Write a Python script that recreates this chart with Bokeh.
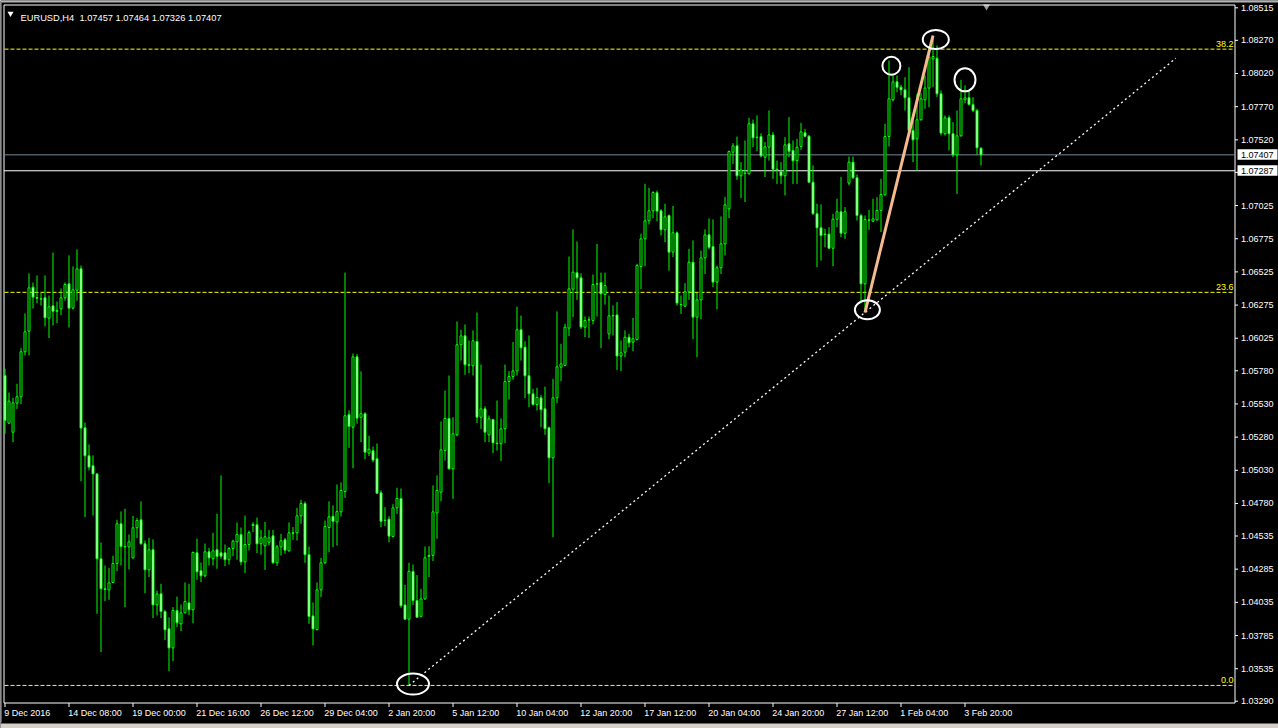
from bokeh.plotting import figure
from bokeh.models import Range1d
from bokeh.embed import file_html
from bokeh.resources import INLINE
from bokeh.core.properties import value

symbol = "EURUSD,H4"

# H4 candles, oldest first
opens = [
    1.05744, 1.05385, 1.05317, 1.05536, 1.05584, 1.05923, 1.06079, 1.06410, 1.06332, 1.06322,
    1.06330, 1.06176, 1.06269, 1.06234, 1.06247, 1.06330, 1.06435, 1.06252, 1.06387, 1.06548,
    1.05350, 1.05139, 1.05064, 1.05003, 1.04363, 1.04137, 1.04129, 1.04185, 1.04328, 1.04627,
    1.04456, 1.04453, 1.04370, 1.04597, 1.04657, 1.04476, 1.04280, 1.04431, 1.04016, 1.04099,
    1.03966, 1.03836, 1.03692, 1.03974, 1.03873, 1.03956, 1.04031, 1.03979, 1.04408, 1.04273,
    1.04235, 1.04416, 1.04363, 1.04431, 1.04408, 1.04408, 1.04356, 1.04441, 1.04491, 1.04546,
    1.04340, 1.04471, 1.04622, 1.04619, 1.04476, 1.04461, 1.04488, 1.04536, 1.04333, 1.04453,
    1.04506, 1.04423, 1.04559, 1.04559, 1.04687, 1.04780, 1.04394, 1.03933, 1.03830, 1.04129,
    1.04333, 1.04599, 1.04684, 1.04641, 1.04717, 1.04870, 1.05451, 1.05355, 1.05885, 1.05430,
    1.05456, 1.05159, 1.05177, 1.05117, 1.04860, 1.04654, 1.04662, 1.04531, 1.04747, 1.04818,
    1.04016, 1.03908, 1.04268, 1.04049, 1.03930, 1.04061, 1.04381, 1.04389, 1.04709, 1.04865,
    1.05179, 1.05421, 1.05041, 1.05297, 1.05976, 1.06043, 1.05825, 1.05817, 1.06001, 1.05430,
    1.05493, 1.05297, 1.05413, 1.05235, 1.05230, 1.05343, 1.05699, 1.05737, 1.05779, 1.06089,
    1.05958, 1.05742, 1.05606, 1.05526, 1.05576, 1.05493, 1.05351, 1.05124, 1.05576, 1.05807,
    1.05820, 1.06101, 1.06395, 1.06518, 1.06480, 1.06109, 1.06164, 1.06159, 1.06435, 1.06445,
    1.06355, 1.06058, 1.06196, 1.06201, 1.05891, 1.05920, 1.06033, 1.05996, 1.06016, 1.06566,
    1.06774, 1.06910, 1.06985, 1.07121, 1.06985, 1.06842, 1.06950, 1.06674, 1.06820, 1.06280,
    1.06267, 1.06375, 1.06598, 1.06184, 1.06314, 1.06631, 1.06804, 1.06716, 1.06448, 1.06556,
    1.06736, 1.07000, 1.07427, 1.07475, 1.07249, 1.07269, 1.07264, 1.07641, 1.07540, 1.07545,
    1.07389, 1.07465, 1.07557, 1.07299, 1.07281, 1.07249, 1.07490, 1.07440, 1.07364, 1.07470,
    1.07573, 1.07548, 1.07201, 1.06963, 1.06857, 1.06810, 1.06810, 1.06703, 1.06922, 1.06978,
    1.06817, 1.07194, 1.07352, 1.07234, 1.06950, 1.06435, 1.06917, 1.06907, 1.06917, 1.06988,
    1.07106, 1.07545, 1.07822, 1.07957, 1.07917, 1.07897, 1.07837, 1.07591, 1.07528, 1.07671,
    1.07822, 1.07910, 1.08130, 1.08135, 1.07867, 1.07566, 1.07686, 1.07566, 1.07407, 1.07550,
    1.07822, 1.07837, 1.07786, 1.07741, 1.07457,
]
highs = [
    1.05795, 1.05616, 1.05576, 1.05682, 1.05950, 1.06212, 1.06513, 1.06445, 1.06498, 1.06367,
    1.06498, 1.06347, 1.06671, 1.06302, 1.06400, 1.06445, 1.06649, 1.06566, 1.06694, 1.06573,
    1.05390, 1.05225, 1.05142, 1.05008, 1.04486, 1.04313, 1.04295, 1.04386, 1.04657, 1.04720,
    1.04740, 1.04546, 1.04687, 1.04669, 1.04795, 1.04501, 1.04521, 1.04509, 1.04124, 1.04175,
    1.03979, 1.03923, 1.03999, 1.04079, 1.04019, 1.04185, 1.04175, 1.04418, 1.04516, 1.04335,
    1.04478, 1.04446, 1.04559, 1.04702, 1.04991, 1.04471, 1.04451, 1.04506, 1.04637, 1.04599,
    1.04689, 1.04576, 1.04639, 1.04674, 1.04581, 1.04642, 1.04581, 1.04581, 1.04468, 1.04551,
    1.04521, 1.04637, 1.04602, 1.04747, 1.04808, 1.04795, 1.04456, 1.04034, 1.04185, 1.04369,
    1.04652, 1.04795, 1.04765, 1.04923, 1.04938, 1.06520, 1.05483, 1.05910, 1.05905, 1.05775,
    1.05468, 1.05290, 1.05209, 1.05232, 1.04878, 1.04752, 1.04684, 1.04775, 1.04898, 1.04893,
    1.04167, 1.04333, 1.04320, 1.04240, 1.04137, 1.04456, 1.04458, 1.04916, 1.04991, 1.05398,
    1.05631, 1.05744, 1.05430, 1.06151, 1.06089, 1.06129, 1.06008, 1.06084, 1.06219, 1.05827,
    1.05513, 1.05443, 1.05418, 1.05556, 1.05421, 1.05827, 1.05777, 1.05996, 1.06264, 1.06196,
    1.06003, 1.06046, 1.05644, 1.05652, 1.05599, 1.05661, 1.05360, 1.05719, 1.06227, 1.05983,
    1.06134, 1.06641, 1.06845, 1.06754, 1.06515, 1.06189, 1.06189, 1.06505, 1.06736, 1.06520,
    1.06520, 1.06347, 1.06272, 1.06297, 1.06008, 1.06084, 1.06058, 1.06179, 1.06586, 1.06812,
    1.07189, 1.07159, 1.07133, 1.07138, 1.06998, 1.07038, 1.06958, 1.07023, 1.06830, 1.06347,
    1.06440, 1.06699, 1.06762, 1.06367, 1.06686, 1.06845, 1.06928, 1.06920, 1.06573, 1.06943,
    1.07091, 1.07440, 1.07495, 1.07545, 1.07352, 1.07515, 1.07686, 1.07673, 1.07704, 1.07570,
    1.07503, 1.07741, 1.07578, 1.07364, 1.07352, 1.07540, 1.07691, 1.07515, 1.07528, 1.07648,
    1.07603, 1.07555, 1.07327, 1.07038, 1.07033, 1.06850, 1.06862, 1.06963, 1.07076, 1.07239,
    1.07013, 1.07394, 1.07394, 1.07259, 1.06963, 1.06950, 1.06993, 1.07076, 1.07088, 1.07226,
    1.07641, 1.08118, 1.08017, 1.08005, 1.07935, 1.07992, 1.08067, 1.07666, 1.07867, 1.07872,
    1.08005, 1.08193, 1.08306, 1.08231, 1.07892, 1.07704, 1.07704, 1.07653, 1.07741, 1.07972,
    1.07930, 1.07892, 1.07842, 1.07754, 1.07464,
]
lows = [
    1.05305, 1.05380, 1.05242, 1.05493, 1.05528, 1.05895, 1.05895, 1.06249, 1.06289, 1.06272,
    1.06114, 1.06026, 1.06121, 1.06139, 1.06199, 1.06309, 1.06106, 1.06242, 1.06309, 1.04948,
    1.04677, 1.05029, 1.04689, 1.03949, 1.03660, 1.04044, 1.04054, 1.04180, 1.04270, 1.04313,
    1.03999, 1.04283, 1.04366, 1.04519, 1.04471, 1.04104, 1.04225, 1.03916, 1.03936, 1.03916,
    1.03750, 1.03517, 1.03592, 1.03848, 1.03818, 1.03954, 1.03939, 1.03878, 1.04205, 1.04187,
    1.04225, 1.04313, 1.04313, 1.04288, 1.04363, 1.04308, 1.04320, 1.04383, 1.04356, 1.04315,
    1.04255, 1.04426, 1.04564, 1.04406, 1.04394, 1.04280, 1.04463, 1.04325, 1.04310, 1.04388,
    1.04401, 1.04418, 1.04506, 1.04501, 1.04627, 1.04333, 1.03873, 1.03710, 1.03823, 1.04074,
    1.04325, 1.04413, 1.04451, 1.04463, 1.04682, 1.04823, 1.05199, 1.05046, 1.05381, 1.05242,
    1.05112, 1.05137, 1.05091, 1.04853, 1.04602, 1.04609, 1.04488, 1.04526, 1.04702, 1.03994,
    1.03906, 1.03409, 1.04016, 1.03918, 1.03923, 1.04054, 1.04225, 1.04346, 1.04514, 1.04797,
    1.05104, 1.05034, 1.04815, 1.05287, 1.05857, 1.05750, 1.05762, 1.05744, 1.05386, 1.05342,
    1.05242, 1.05242, 1.05159, 1.05179, 1.05099, 1.05235, 1.05564, 1.05712, 1.05744, 1.05857,
    1.05574, 1.05506, 1.05518, 1.05481, 1.05355, 1.05297, 1.04933, 1.04526, 1.05536, 1.05702,
    1.05815, 1.06041, 1.06184, 1.06314, 1.06094, 1.06033, 1.06028, 1.06129, 1.06189, 1.05950,
    1.06279, 1.06018, 1.06046, 1.05787, 1.05777, 1.05882, 1.05958, 1.05928, 1.06008, 1.06395,
    1.06568, 1.06882, 1.06929, 1.06907, 1.06799, 1.06749, 1.06535, 1.06636, 1.06272, 1.06209,
    1.06260, 1.06314, 1.06018, 1.05882, 1.06169, 1.06510, 1.06696, 1.06410, 1.06242, 1.06510,
    1.06649, 1.06930, 1.07339, 1.07219, 1.07081, 1.07051, 1.07259, 1.07465, 1.07435, 1.07389,
    1.07239, 1.07364, 1.07226, 1.07188, 1.07188, 1.07101, 1.07389, 1.07188, 1.07188, 1.07445,
    1.07540, 1.07196, 1.06955, 1.06561, 1.06611, 1.06711, 1.06698, 1.06568, 1.06862, 1.06787,
    1.06774, 1.07176, 1.07226, 1.06912, 1.06305, 1.06219, 1.06842, 1.06900, 1.06912, 1.06825,
    1.07101, 1.07470, 1.07809, 1.07879, 1.07859, 1.07741, 1.07578, 1.07352, 1.07289, 1.07666,
    1.07754, 1.07766, 1.07917, 1.07842, 1.07553, 1.07553, 1.07440, 1.07389, 1.07113, 1.07545,
    1.07796, 1.07779, 1.07729, 1.07409, 1.07326,
]
closes = [
    1.05405, 1.05551, 1.05538, 1.05584, 1.05923, 1.06074, 1.06405, 1.06335, 1.06327, 1.06320,
    1.06179, 1.06262, 1.06229, 1.06229, 1.06330, 1.06430, 1.06252, 1.06390, 1.06548, 1.05348,
    1.05139, 1.05054, 1.05003, 1.04363, 1.04137, 1.04132, 1.04182, 1.04328, 1.04627, 1.04456,
    1.04453, 1.04491, 1.04597, 1.04652, 1.04476, 1.04280, 1.04431, 1.04016, 1.04099, 1.03966,
    1.03828, 1.03692, 1.03974, 1.03881, 1.03956, 1.04041, 1.03979, 1.04411, 1.04265, 1.04235,
    1.04416, 1.04370, 1.04423, 1.04380, 1.04383, 1.04356, 1.04441, 1.04496, 1.04546, 1.04340,
    1.04471, 1.04561, 1.04614, 1.04476, 1.04521, 1.04529, 1.04521, 1.04333, 1.04453, 1.04499,
    1.04428, 1.04559, 1.04556, 1.04687, 1.04780, 1.04394, 1.03928, 1.03835, 1.04129, 1.04333,
    1.04607, 1.04679, 1.04646, 1.04719, 1.04878, 1.05441, 1.05360, 1.05885, 1.05423, 1.05456,
    1.05167, 1.05189, 1.05107, 1.04858, 1.04646, 1.04652, 1.04534, 1.04747, 1.04818, 1.04009,
    1.03908, 1.04268, 1.04049, 1.03923, 1.04061, 1.04371, 1.04389, 1.04717, 1.04878, 1.05184,
    1.05421, 1.05041, 1.05305, 1.05976, 1.06043, 1.05825, 1.05822, 1.06006, 1.05430, 1.05493,
    1.05317, 1.05418, 1.05237, 1.05232, 1.05343, 1.05699, 1.05737, 1.05779, 1.06089, 1.05953,
    1.05742, 1.05606, 1.05526, 1.05579, 1.05486, 1.05343, 1.05124, 1.05576, 1.05810, 1.05832,
    1.06109, 1.06397, 1.06523, 1.06480, 1.06109, 1.06159, 1.06162, 1.06430, 1.06433, 1.06360,
    1.06422, 1.06194, 1.06194, 1.05891, 1.05915, 1.06033, 1.05991, 1.06021, 1.06573, 1.06774,
    1.06910, 1.06985, 1.07123, 1.06983, 1.06842, 1.06940, 1.06674, 1.06820, 1.06290, 1.06277,
    1.06375, 1.06598, 1.06184, 1.06314, 1.06631, 1.06804, 1.06711, 1.06448, 1.06556, 1.06736,
    1.07030, 1.07432, 1.07475, 1.07249, 1.07292, 1.07266, 1.07641, 1.07535, 1.07538, 1.07399,
    1.07467, 1.07557, 1.07299, 1.07294, 1.07249, 1.07482, 1.07435, 1.07362, 1.07465, 1.07580,
    1.07548, 1.07201, 1.06963, 1.06857, 1.06800, 1.06807, 1.06703, 1.06922, 1.06978, 1.06817,
    1.06978, 1.07352, 1.07234, 1.06950, 1.06435, 1.06920, 1.06915, 1.06925, 1.06988, 1.07108,
    1.07545, 1.07829, 1.07957, 1.07917, 1.07897, 1.07837, 1.07591, 1.07520, 1.07671, 1.07829,
    1.07910, 1.08143, 1.08148, 1.07867, 1.07571, 1.07686, 1.07566, 1.07407, 1.07550, 1.07829,
    1.07837, 1.07786, 1.07741, 1.07460, 1.07407,
]

# time scale labels, one every 16 bars
time_labels = [
    "9 Dec 2016", "14 Dec 08:00", "19 Dec 00:00", "21 Dec 16:00", "26 Dec 12:00",
    "29 Dec 04:00", "2 Jan 20:00", "5 Jan 12:00", "10 Jan 04:00", "12 Jan 20:00",
    "17 Jan 12:00", "20 Jan 04:00", "24 Jan 20:00", "27 Jan 12:00", "1 Feb 04:00",
    "3 Feb 20:00",
]
bars_per_label = 16

# price scale labels
price_ticks = [
    1.08515, 1.08270, 1.08020, 1.07770, 1.07520, 1.07275, 1.07025, 1.06775, 1.06525,
    1.06275, 1.06025, 1.05780, 1.05530, 1.05280, 1.05030, 1.04780, 1.04535, 1.04285,
    1.04035, 1.03785, 1.03535, 1.03290,
]

# Fibonacci retracement: swing low is 0.0, swing high is 100
fib_high = 1.15960
fib_levels = [0.0, 23.6, 38.2]
hline_level = 1.07287

# chart objects anchored on candles
trend_anchor_bars = [101, 215]   # trendline through two lows
trend_end_bar = 292.7
swing_bars = [215, 232]          # low-to-high leg
circled = [(101, "low"), (215, "low"), (221, "high"), (232, "high"), (239, "high")]

FONT = value("Liberation Sans")
FS = "9px"
GREEN = "#00FF00"
W, H = 1278, 728


# window pixel -> chart units (4 px per bar, fixed price scale)
def bx(px):
    return (px - 4.5) / 4.0


def py(px):
    return 1.0857 - 0.00007535 * px


PPX = 0.00007535  # price per pixel
area_l, area_r, area_t, area_b = bx(3.5), bx(1234.5), py(4.5), py(702.5)

p = figure(width=W, height=H, output_backend="svg", toolbar_location=None,
           x_range=Range1d(bx(0), bx(W)), y_range=Range1d(py(H), py(0)),
           x_axis_location=None, y_axis_location=None, min_border=0,
           background_fill_color="black", border_fill_color="black",
           outline_line_color=None)
p.grid.visible = False

# window frame lines
p.quad(left=[bx(0)], right=[bx(W)], top=[py(0)], bottom=[py(2)],
       fill_color="#B4B4B4", line_color=None)
p.segment(x0=[bx(0.5)], y0=[py(2)], x1=[bx(0.5)], y1=[py(722)], line_color="#B4B4B4")
p.quad(left=[bx(0)], right=[bx(W)], top=[py(723)], bottom=[py(H)],
       fill_color="#D4D0C8", line_color=None)
p.scatter(x=[bx(986)], y=[py(6)], marker="inverted_triangle", size=7,
          fill_color="#A0A0A0", line_color=None)

# plot area border
p.quad(left=[area_l], right=[area_r], top=[area_t], bottom=[area_b],
       fill_color=None, line_color="white", line_width=1)

# Fibonacci levels
fib_low = min(lows)
fib_prices = [fib_low + (fib_high - fib_low) * lev / 100.0 for lev in fib_levels]
p.segment(x0=[bx(4)] * len(fib_prices), x1=[bx(1232)] * len(fib_prices),
          y0=fib_prices, y1=fib_prices, line_color="#FFFF00", line_dash="4 2", line_width=1)
p.text(x=[bx(1233)] * len(fib_prices), y=[fp + 2 * PPX for fp in fib_prices],
       text=[f"{lev:.1f}" for lev in fib_levels], text_align="right", text_baseline="bottom",
       text_color="#FFFF00", text_font=FONT, text_font_size=FS)

# bid line and horizontal line
p.segment(x0=[area_l], x1=[area_r], y0=[closes[-1]], y1=[closes[-1]], line_color="#778899")
p.segment(x0=[area_l], x1=[area_r], y0=[hline_level], y1=[hline_level], line_color="white")

# price scale
p.segment(x0=[area_r] * len(price_ticks), x1=[bx(1237.5)] * len(price_ticks),
          y0=price_ticks, y1=price_ticks, line_color="white")
p.text(x=[bx(1240.5)] * len(price_ticks), y=price_ticks,
       text=[f"{t:.5f}" for t in price_ticks], text_align="left", text_baseline="middle",
       text_color="white", text_font=FONT, text_font_size=FS)

# price boxes on the scale
box_levels = [closes[-1], hline_level]
p.quad(left=[bx(1237)] * 2, right=[bx(1277)] * 2,
       top=[lv + 5.5 * PPX for lv in box_levels], bottom=[lv - 5.0 * PPX for lv in box_levels],
       fill_color="white", line_color=None)
p.text(x=[bx(1240.5)] * 2, y=box_levels, text=[f"{lv:.5f}" for lv in box_levels],
       text_align="left", text_baseline="middle", text_color="black",
       text_font=FONT, text_font_size=FS)

# time scale
ticks_x = [bars_per_label * k for k in range(len(time_labels))]
p.segment(x0=ticks_x, x1=ticks_x, y0=[area_b] * len(ticks_x), y1=[py(706.5)] * len(ticks_x),
          line_color="white")
p.text(x=[t - 0.2 for t in ticks_x], y=[py(707)] * len(ticks_x), text=time_labels,
       text_align="left", text_baseline="top", text_color="white",
       text_font=FONT, text_font_size=FS)

# candles
xs = list(range(len(opens)))
tops = [max(o, c) for o, c in zip(opens, closes)]
bottoms = [min(o, c) for o, c in zip(opens, closes)]
fills = ["black" if c > o else "white" for o, c in zip(opens, closes)]
p.segment(x0=xs, y0=highs, x1=xs, y1=lows, line_color=GREEN, line_width=1)
p.vbar(x=xs, width=0.5, top=tops, bottom=bottoms, fill_color=fills,
       line_color=GREEN, line_width=1)

# trendline through the two lows
a, b = trend_anchor_bars
slope = (lows[b] - lows[a]) / (b - a)
p.line([a, trend_end_bar], [lows[a], lows[a] + slope * (trend_end_bar - a)],
       line_color="white", line_dash="2 3", line_width=1.3)

# swing leg
s0, s1 = swing_bars
p.line([s0, s1], [lows[s0], highs[s1]], line_color="#F5BA8E", line_width=3)

# circles around swing points
sizes = {101: (32, 21), 215: (25, 19), 221: (18, 18), 232: (26, 19), 239: (21, 23)}
shift = {101: (1.0, 0.0001), 215: (0.6, 0.0002), 221: (0.6, -0.0004),
         232: (0.7, -0.0003), 239: (1.0, 0.0)}
cx, cy, cw, ch = [], [], [], []
for bar, side in circled:
    base = lows[bar] if side == "low" else highs[bar]
    dx, dy = shift[bar]
    cx.append(bar + dx)
    cy.append(base + dy)
    cw.append(sizes[bar][0])
    ch.append(sizes[bar][1])
p.ellipse(x=cx, y=cy, width=cw, height=ch, width_units="screen", height_units="screen",
          fill_color=None, line_color="white", line_width=2)

# header
header = f"{symbol}\u00a0 {opens[-1]:.5f} {highs[-1]:.5f} {lows[-1]:.5f} {closes[-1]:.5f}"
p.scatter(x=[bx(10)], y=[py(13)], marker="inverted_triangle", size=6,
          fill_color="white", line_color=None)
p.text(x=[bx(20)], y=[py(17)], text=[header], text_align="left", text_baseline="alphabetic",
       text_color="white", text_font=FONT, text_font_size="9.3px")

open("out.html", "w").write(file_html(p, INLINE))
